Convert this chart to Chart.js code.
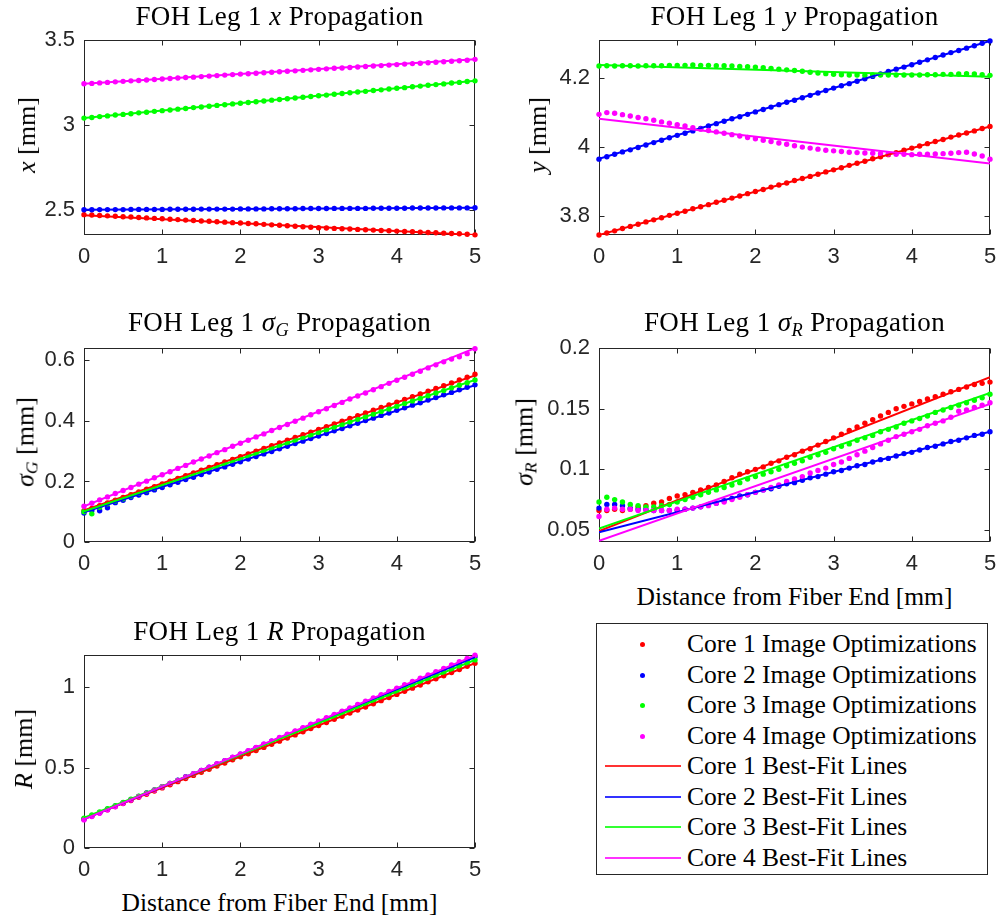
<!DOCTYPE html>
<html>
<head>
<meta charset="utf-8">
<title>FOH Leg 1 Propagation</title>
<script src="https://cdn.jsdelivr.net/npm/chart.js@4.4.0/dist/chart.umd.min.js"></script>
<style>
  body { margin: 0; background: #fff; }
  #page { position: relative; width: 1000px; height: 920px; overflow: hidden;
          font-family: "Liberation Serif", "Times New Roman", serif; color: #000; }
  canvas { position: absolute; }
  .title { position: absolute; font-size: 27px; letter-spacing: 0.4px; white-space: nowrap;
           transform: translate(-50%, -50%); line-height: 1; }
  .ylab { position: absolute; font-size: 26px; white-space: nowrap; line-height: 1;
          transform: translate(-50%, -50%) rotate(-90deg); }
  .xlab { position: absolute; font-size: 25.5px; white-space: nowrap; line-height: 1;
          transform: translate(-50%, -50%); }
  sub { font-size: 68%; vertical-align: -0.25em; }
  #legend { position: absolute; left: 596px; top: 623px; width: 392px; height: 252px;
            box-sizing: border-box; border: 1px solid #262626; background: #fff; }
  .entry { position: absolute; left: 0; height: 30px; width: 100%; font-size: 25.5px; }
  .entry span.txt { position: absolute; left: 90px; top: 50%; transform: translateY(-50%);
                    white-space: nowrap; line-height: 1; }
  .entry .dot { position: absolute; left: 43px; top: 13px; width: 5px; height: 5px;
                border-radius: 50%; }
  .entry .seg { position: absolute; left: 8px; top: 14px; width: 76px; height: 2px; opacity: 0.8; }
</style>
</head>
<body>
<div id="page"></div>
<script>
// distance from fiber end [mm]
const distance = [0,0.1,0.2,0.3,0.4,0.5,0.6,0.7,0.8,0.9,
  1,1.1,1.2,1.3,1.4,1.5,1.6,1.7,1.8,1.9,
  2,2.1,2.2,2.3,2.4,2.5,2.6,2.7,2.8,2.9,
  3,3.1,3.2,3.3,3.4,3.5,3.6,3.7,3.8,3.9,
  4,4.1,4.2,4.3,4.4,4.5,4.6,4.7,4.8,4.9,
  5];
const fitEnds = [0, 5];
const distTicks = [0, 1, 2, 3, 4, 5];

const coreColors = ['#ff0000', '#0000ff', '#00ff00', '#ff00ff'];
const dotLabels = ['Core 1 Image Optimizations', 'Core 2 Image Optimizations',
  'Core 3 Image Optimizations', 'Core 4 Image Optimizations'];
const fitLabels = ['Core 1 Best-Fit Lines', 'Core 2 Best-Fit Lines',
  'Core 3 Best-Fit Lines', 'Core 4 Best-Fit Lines'];

// ---- x ----
const xCore1 = [2.470,2.468,2.465,2.463,2.461,2.458,2.456,2.453,2.451,2.448,
  2.446,2.443,2.441,2.438,2.436,2.433,2.431,2.428,2.426,2.423,
  2.421,2.418,2.416,2.413,2.410,2.408,2.405,2.402,2.399,2.396,
  2.393,2.391,2.389,2.387,2.385,2.383,2.381,2.379,2.377,2.375,
  2.373,2.371,2.369,2.367,2.365,2.363,2.361,2.359,2.357,2.354,
  2.351];
const xCore2 = [2.499,2.499,2.500,2.500,2.500,2.500,2.501,2.501,2.501,2.501,
  2.501,2.502,2.502,2.502,2.502,2.503,2.503,2.503,2.503,2.503,
  2.504,2.504,2.504,2.504,2.505,2.505,2.505,2.505,2.506,2.506,
  2.506,2.506,2.507,2.507,2.507,2.507,2.507,2.508,2.508,2.508,
  2.508,2.508,2.509,2.509,2.509,2.509,2.510,2.510,2.510,2.510,
  2.511];
const xCore3 = [3.040,3.044,3.049,3.053,3.058,3.062,3.066,3.071,3.075,3.080,
  3.084,3.088,3.093,3.097,3.102,3.106,3.110,3.115,3.119,3.124,
  3.128,3.132,3.137,3.141,3.146,3.150,3.154,3.159,3.163,3.168,
  3.172,3.176,3.181,3.185,3.190,3.194,3.198,3.203,3.207,3.212,
  3.216,3.220,3.225,3.229,3.234,3.238,3.242,3.247,3.251,3.256,
  3.260];
const xCore4 = [3.243,3.245,3.248,3.251,3.254,3.257,3.260,3.262,3.265,3.268,
  3.271,3.274,3.277,3.280,3.282,3.285,3.288,3.291,3.294,3.297,
  3.300,3.302,3.305,3.308,3.311,3.314,3.317,3.319,3.322,3.325,
  3.328,3.331,3.334,3.336,3.339,3.342,3.345,3.348,3.350,3.353,
  3.356,3.359,3.362,3.364,3.367,3.370,3.373,3.376,3.379,3.382,
  3.387];
const xFit = [[2.467, 2.350], [2.499, 2.511], [3.040, 3.260], [3.243, 3.388]];
const xAxisTicks = [2.5, 3, 3.5];

// ---- y ----
const yCore1 = [3.745,3.751,3.757,3.764,3.770,3.776,3.783,3.789,3.795,3.802,
  3.808,3.814,3.821,3.827,3.833,3.840,3.846,3.852,3.858,3.865,
  3.871,3.877,3.884,3.890,3.896,3.903,3.909,3.915,3.921,3.928,
  3.934,3.940,3.947,3.953,3.959,3.966,3.972,3.978,3.984,3.991,
  3.997,4.003,4.010,4.016,4.022,4.029,4.035,4.041,4.047,4.054,
  4.060];
const yCore2 = [3.965,3.972,3.979,3.986,3.992,3.999,4.006,4.013,4.020,4.027,
  4.034,4.040,4.047,4.054,4.061,4.068,4.075,4.082,4.088,4.095,
  4.102,4.109,4.116,4.123,4.130,4.136,4.143,4.150,4.157,4.164,
  4.171,4.178,4.184,4.191,4.198,4.205,4.212,4.219,4.226,4.232,
  4.239,4.246,4.253,4.260,4.267,4.274,4.280,4.287,4.294,4.301,
  4.308];
const yCore3 = [4.235,4.236,4.235,4.236,4.236,4.235,4.236,4.236,4.236,4.237,
  4.237,4.237,4.238,4.237,4.237,4.236,4.236,4.235,4.234,4.233,
  4.232,4.230,4.228,4.226,4.224,4.222,4.220,4.217,4.215,4.213,
  4.211,4.210,4.209,4.209,4.208,4.209,4.209,4.209,4.209,4.209,
  4.209,4.209,4.210,4.210,4.211,4.211,4.212,4.213,4.212,4.210,
  4.208];
const yCore4 = [4.095,4.100,4.098,4.094,4.090,4.086,4.082,4.078,4.073,4.069,
  4.065,4.061,4.056,4.052,4.048,4.044,4.040,4.036,4.032,4.028,
  4.024,4.020,4.016,4.012,4.008,4.004,4.000,3.997,3.994,3.991,
  3.989,3.987,3.985,3.984,3.983,3.982,3.981,3.980,3.979,3.979,
  3.978,3.979,3.979,3.980,3.981,3.982,3.984,3.985,3.980,3.974,
  3.965];
const yFit = [[3.745, 4.060], [3.966, 4.308], [4.238, 4.204], [4.082, 3.952]];
const yAxisTicks = [3.8, 4, 4.2];

// ---- sigma G ----
const sgCore1 = [0.103,0.111,0.120,0.129,0.138,0.147,0.156,0.165,0.174,0.183,
  0.192,0.201,0.210,0.219,0.228,0.237,0.246,0.255,0.264,0.273,
  0.282,0.291,0.300,0.309,0.318,0.327,0.336,0.345,0.354,0.363,
  0.372,0.381,0.390,0.399,0.408,0.417,0.426,0.435,0.444,0.453,
  0.462,0.471,0.480,0.489,0.498,0.507,0.516,0.525,0.535,0.544,
  0.554];
const sgCore2 = [0.096,0.104,0.103,0.113,0.130,0.138,0.147,0.155,0.163,0.172,
  0.180,0.189,0.197,0.206,0.214,0.223,0.231,0.240,0.248,0.257,
  0.265,0.274,0.282,0.291,0.299,0.308,0.316,0.325,0.333,0.342,
  0.350,0.358,0.367,0.375,0.384,0.392,0.401,0.409,0.418,0.426,
  0.435,0.443,0.452,0.460,0.469,0.477,0.486,0.494,0.503,0.511,
  0.519];
const sgCore3 = [0.100,0.093,0.115,0.126,0.135,0.143,0.152,0.161,0.169,0.178,
  0.187,0.196,0.204,0.213,0.222,0.230,0.239,0.248,0.257,0.265,
  0.274,0.283,0.291,0.300,0.309,0.318,0.326,0.335,0.344,0.352,
  0.361,0.370,0.379,0.387,0.396,0.405,0.413,0.422,0.431,0.439,
  0.448,0.457,0.466,0.474,0.483,0.492,0.500,0.509,0.518,0.526,
  0.535];
const sgCore4 = [0.118,0.128,0.139,0.149,0.160,0.170,0.180,0.191,0.201,0.212,
  0.222,0.232,0.243,0.253,0.264,0.274,0.284,0.295,0.305,0.316,
  0.326,0.336,0.347,0.357,0.368,0.378,0.388,0.399,0.409,0.420,
  0.430,0.440,0.451,0.461,0.472,0.482,0.492,0.503,0.513,0.524,
  0.534,0.544,0.554,0.564,0.575,0.585,0.595,0.604,0.612,0.622,
  0.638];
const sgFit = [[0.105, 0.550], [0.098, 0.518], [0.101, 0.535], [0.118, 0.640]];
const sgAxisTicks = [0, 0.2, 0.4, 0.6];

// ---- sigma R ----
const srCore1 = [0.066,0.066,0.067,0.066,0.067,0.069,0.070,0.072,0.073,0.076,
  0.078,0.079,0.081,0.083,0.085,0.087,0.090,0.093,0.096,0.098,
  0.100,0.102,0.105,0.107,0.110,0.112,0.115,0.117,0.120,0.123,
  0.126,0.129,0.132,0.135,0.138,0.141,0.144,0.147,0.150,0.152,
  0.154,0.156,0.158,0.160,0.162,0.164,0.166,0.168,0.170,0.171,
  0.172];
const srCore2 = [0.068,0.071,0.071,0.070,0.068,0.067,0.067,0.066,0.066,0.066,
  0.066,0.067,0.068,0.069,0.071,0.072,0.074,0.076,0.078,0.079,
  0.081,0.083,0.084,0.086,0.088,0.089,0.091,0.093,0.094,0.096,
  0.098,0.099,0.101,0.103,0.104,0.106,0.108,0.109,0.111,0.113,
  0.114,0.116,0.118,0.119,0.121,0.123,0.124,0.126,0.128,0.129,
  0.131];
const srCore3 = [0.073,0.077,0.075,0.073,0.071,0.070,0.069,0.069,0.070,0.071,
  0.073,0.075,0.077,0.079,0.081,0.083,0.085,0.087,0.089,0.092,
  0.094,0.096,0.098,0.100,0.103,0.105,0.107,0.110,0.112,0.114,
  0.117,0.119,0.121,0.124,0.126,0.128,0.131,0.133,0.135,0.138,
  0.140,0.142,0.144,0.147,0.149,0.151,0.153,0.155,0.157,0.159,
  0.162];
const srCore4 = [0.061,0.067,0.068,0.067,0.067,0.066,0.066,0.066,0.066,0.066,
  0.067,0.067,0.068,0.069,0.070,0.072,0.073,0.075,0.077,0.079,
  0.081,0.083,0.085,0.087,0.090,0.092,0.094,0.097,0.099,0.101,
  0.104,0.106,0.109,0.112,0.115,0.118,0.121,0.124,0.127,0.129,
  0.131,0.133,0.136,0.138,0.140,0.143,0.148,0.149,0.151,0.153,
  0.155];
const srFit = [[0.049, 0.176], [0.048, 0.131], [0.051, 0.163], [0.041, 0.154]];
const srAxisTicks = [0.05, 0.1, 0.15, 0.2];

// ---- R ----
const rCore1 = [0.180,0.199,0.219,0.238,0.258,0.277,0.296,0.316,0.335,0.355,
  0.374,0.393,0.413,0.432,0.452,0.471,0.490,0.510,0.529,0.549,
  0.568,0.587,0.607,0.626,0.646,0.665,0.684,0.704,0.723,0.743,
  0.762,0.781,0.801,0.820,0.840,0.859,0.878,0.898,0.917,0.937,
  0.956,0.975,0.995,1.014,1.034,1.053,1.072,1.092,1.111,1.131,
  1.150];
const rCore2 = [0.180,0.200,0.220,0.241,0.261,0.281,0.301,0.321,0.342,0.362,
  0.382,0.402,0.422,0.443,0.463,0.483,0.503,0.523,0.544,0.564,
  0.584,0.604,0.624,0.645,0.665,0.685,0.705,0.725,0.746,0.766,
  0.786,0.806,0.826,0.847,0.867,0.887,0.907,0.927,0.948,0.968,
  0.988,1.008,1.028,1.049,1.069,1.089,1.109,1.129,1.150,1.170,
  1.190];
const rCore3 = [0.185,0.205,0.224,0.244,0.264,0.284,0.303,0.323,0.343,0.362,
  0.382,0.402,0.421,0.441,0.461,0.481,0.500,0.520,0.540,0.559,
  0.579,0.599,0.618,0.638,0.658,0.678,0.697,0.717,0.737,0.756,
  0.776,0.796,0.815,0.835,0.855,0.875,0.894,0.914,0.934,0.953,
  0.973,0.993,1.012,1.032,1.052,1.072,1.091,1.111,1.131,1.150,
  1.170];
const rCore4 = [0.175,0.196,0.216,0.237,0.257,0.278,0.298,0.319,0.339,0.360,
  0.380,0.401,0.421,0.442,0.462,0.483,0.503,0.524,0.544,0.565,
  0.585,0.606,0.626,0.647,0.667,0.688,0.708,0.729,0.749,0.770,
  0.790,0.811,0.831,0.852,0.872,0.893,0.913,0.934,0.954,0.975,
  0.995,1.016,1.036,1.057,1.077,1.098,1.118,1.139,1.159,1.180,
  1.200];
const rFit = [[0.182, 1.150], [0.180, 1.188], [0.188, 1.170], [0.178, 1.198]];
const rAxisTicks = [0, 0.5, 1];

// layout of each panel: plot box [left, top, right, bottom] in page pixels
const panels = [
  { box: [84, 34, 475, 235], cores: [xCore1, xCore2, xCore3, xCore4], fits: xFit,
    yMin: 2.35, yMax: 3.5, yTicks: xAxisTicks,
    title: 'FOH Leg 1 <i>x</i> Propagation', ylab: '<i>x</i> [mm]', ylabX: 27, xlab: false },
  { box: [599, 34, 990, 235], cores: [yCore1, yCore2, yCore3, yCore4], fits: yFit,
    yMin: 3.745, yMax: 4.31, yTicks: yAxisTicks,
    title: 'FOH Leg 1 <i>y</i> Propagation', ylab: '<i>y</i> [mm]', ylabX: 538, xlab: false },
  { box: [84, 342, 475, 542], cores: [sgCore1, sgCore2, sgCore3, sgCore4], fits: sgFit,
    yMin: 0, yMax: 0.64, yTicks: sgAxisTicks,
    title: 'FOH Leg 1 <i>σ<sub>G</sub></i> Propagation', ylab: '<i>σ<sub>G</sub></i> [mm]', ylabX: 27, xlab: false },
  { box: [599, 342, 990, 542], cores: [srCore1, srCore2, srCore3, srCore4], fits: srFit,
    yMin: 0.04, yMax: 0.2, yTicks: srAxisTicks,
    title: 'FOH Leg 1 <i>σ<sub>R</sub></i> Propagation', ylab: '<i>σ<sub>R</sub></i> [mm]', ylabX: 526, xlab: true },
  { box: [84, 649, 475, 848], cores: [rCore1, rCore2, rCore3, rCore4], fits: rFit,
    yMin: 0, yMax: 1.2, yTicks: rAxisTicks,
    title: 'FOH Leg 1 <i>R</i> Propagation', ylab: '<i>R</i> [mm]', ylabX: 24, xlab: true }
];

const YW = 80, XH = 40, PT = 16, PR = 20;
const axisColor = '#262626';
const tickFont = { family: '"Liberation Sans", Arial, sans-serif', size: 22 };

function fmt(v) {
  return String(+(+v).toFixed(3));
}

// box and inward tick marks on all four sides, like a MATLAB axes
const framePlugin = {
  id: 'frame',
  beforeDatasetsDraw(chart) {
    const ctx = chart.ctx;
    const a = chart.chartArea;
    const sx = chart.scales.x, sy = chart.scales.y;
    const l = Math.round(a.left) + 0.5, r = Math.round(a.right) - 0.5;
    const t = Math.round(a.top) + 0.5, b = Math.round(a.bottom) - 0.5;
    ctx.save();
    ctx.strokeStyle = axisColor;
    ctx.lineWidth = 1;
    ctx.strokeRect(l, t, r - l, b - t);
    ctx.beginPath();
    sx.ticks.forEach(tk => {
      const px = Math.round(sx.getPixelForValue(tk.value)) + 0.5;
      ctx.moveTo(px, b); ctx.lineTo(px, b - 5);
      ctx.moveTo(px, t); ctx.lineTo(px, t + 5);
    });
    sy.ticks.forEach(tk => {
      const py = Math.round(sy.getPixelForValue(tk.value)) + 0.5;
      ctx.moveTo(l, py); ctx.lineTo(l + 5, py);
      ctx.moveTo(r, py); ctx.lineTo(r - 5, py);
    });
    ctx.stroke();
    ctx.restore();
  }
};

const page = document.getElementById('page');

function addHtml(cls, html, x, y) {
  const d = document.createElement('div');
  d.className = cls;
  d.innerHTML = html;
  d.style.left = x + 'px';
  d.style.top = y + 'px';
  page.appendChild(d);
}

panels.forEach(p => {
  const [bl, bt, br, bb] = p.box;
  const cv = document.createElement('canvas');
  const w = (br - bl) + YW + PR, h = (bb - bt) + PT + XH;
  cv.width = w; cv.height = h;
  cv.style.left = (bl - YW) + 'px';
  cv.style.top = (bt - PT) + 'px';
  cv.style.width = w + 'px';
  cv.style.height = h + 'px';
  page.appendChild(cv);

  const datasets = [];
  p.cores.forEach((vals, i) => {
    datasets.push({
      label: dotLabels[i],
      data: vals.map((v, k) => ({ x: distance[k], y: v })),
      showLine: false,
      pointRadius: 2.7,
      pointBorderWidth: 0,
      pointBackgroundColor: coreColors[i],
      backgroundColor: coreColors[i],
      borderColor: coreColors[i],
      clip: false,
      order: 8 - i
    });
  });
  p.fits.forEach((f, i) => {
    datasets.push({
      label: fitLabels[i],
      data: fitEnds.map((x, k) => ({ x: x, y: f[k] })),
      showLine: true,
      borderColor: coreColors[i],
      borderWidth: 2,
      pointRadius: 0,
      fill: false,
      order: 4 - i
    });
  });

  new Chart(cv, {
    type: 'scatter',
    data: { datasets: datasets },
    options: {
      responsive: false,
      animation: false,
      devicePixelRatio: 1,
      events: [],
      layout: { autoPadding: false, padding: { top: PT, right: PR, left: 0, bottom: 0 } },
      plugins: { legend: { display: false }, tooltip: { enabled: false } },
      scales: {
        x: {
          type: 'linear', min: 0, max: 5,
          grid: { display: false, drawTicks: false },
          border: { display: false },
          afterBuildTicks: s => { s.ticks = distTicks.map(v => ({ value: v })); },
          afterFit: s => { s.height = XH; },
          ticks: { padding: 9, color: axisColor, font: tickFont, maxRotation: 0,
                   autoSkip: false, callback: v => fmt(v) }
        },
        y: {
          type: 'linear', min: p.yMin, max: p.yMax,
          grid: { display: false, drawTicks: false },
          border: { display: false },
          afterBuildTicks: s => { s.ticks = p.yTicks.map(v => ({ value: v })); },
          afterFit: s => { s.width = YW; },
          ticks: { padding: 9, color: axisColor, font: tickFont,
                   autoSkip: false, callback: v => fmt(v) }
        }
      }
    },
    plugins: [framePlugin]
  });

  const cx = (bl + br) / 2;
  addHtml('title', p.title, cx, bt - 18);
  addHtml('ylab', p.ylab, p.ylabX, (bt + bb) / 2);
  if (p.xlab) addHtml('xlab', 'Distance from Fiber End [mm]', cx, bb + 55);
});

// legend
const legend = document.createElement('div');
legend.id = 'legend';
page.appendChild(legend);
const legendItems = dotLabels.map((t, i) => ({ text: t, color: coreColors[i], kind: 'dot' }))
  .concat(fitLabels.map((t, i) => ({ text: t, color: coreColors[i], kind: 'seg' })));
legendItems.forEach((it, i) => {
  const e = document.createElement('div');
  e.className = 'entry';
  e.style.top = Math.round(5 + i * 30.5) + 'px';
  const mark = document.createElement('div');
  mark.className = it.kind;
  mark.style.background = it.color;
  e.appendChild(mark);
  const s = document.createElement('span');
  s.className = 'txt';
  s.textContent = it.text;
  e.appendChild(s);
  legend.appendChild(e);
});
</script>
</body>
</html>
